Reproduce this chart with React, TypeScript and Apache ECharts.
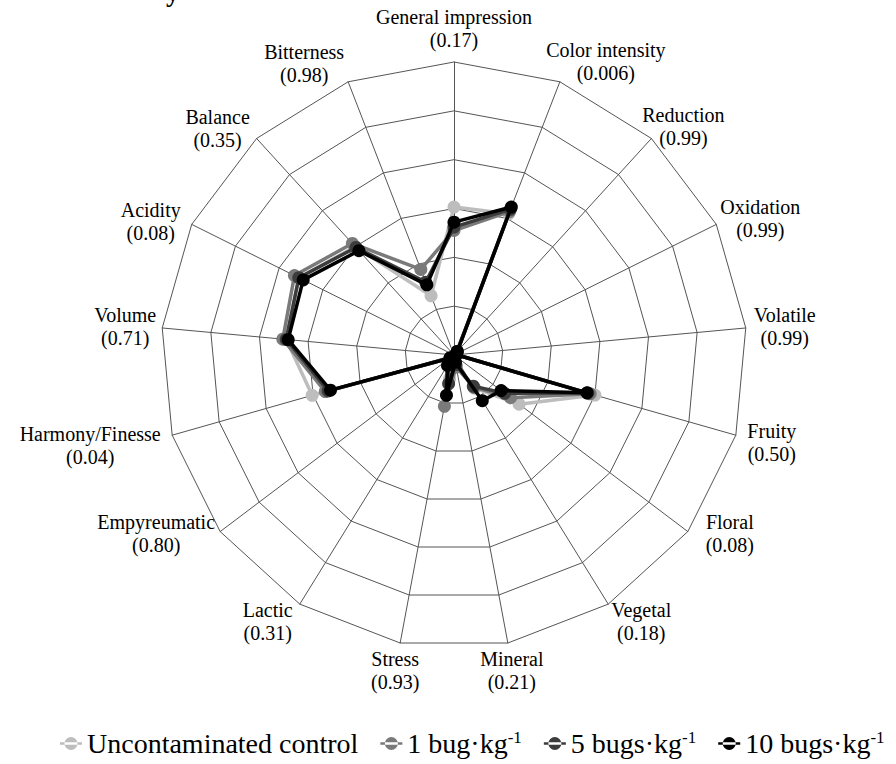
import React, { useEffect, useRef } from "react";
import * as echarts from "echarts";

const attributes = [
  "General impression", "Color intensity", "Reduction", "Oxidation", "Volatile",
  "Fruity", "Floral", "Vegetal", "Mineral", "Stress", "Lactic", "Empyreumatic",
  "Harmony/Finesse", "Volume", "Acidity", "Balance", "Bitterness",
];
const pValues = [
  "0.17", "0.006", "0.99", "0.99", "0.99", "0.50", "0.08", "0.18", "0.21", "0.93",
  "0.31", "0.80", "0.04", "0.71", "0.08", "0.35", "0.98",
];
const control = [3.03, 3.1, 0.1, 0.05, 0.05, 3.0, 1.67, 0.8, 0.2, 0.5, 0.2, 0.1, 3.02, 3.45, 3.55, 3.0, 1.3];
const bug1 = [2.55, 3.15, 0.1, 0.05, 0.05, 2.9, 1.45, 0.78, 0.25, 1.07, 0.25, 0.1, 2.74, 3.52, 3.65, 3.09, 1.88];
const bugs5 = [2.62, 3.2, 0.1, 0.05, 0.05, 2.85, 1.3, 0.75, 0.2, 0.6, 0.2, 0.1, 2.68, 3.45, 3.55, 2.98, 1.6];
const bugs10 = [2.72, 3.25, 0.1, 0.05, 0.05, 2.83, 1.21, 1.1, 0.15, 0.84, 0.25, 0.1, 2.63, 3.41, 3.45, 2.89, 1.54];
const seriesNames = ["Uncontaminated control", "1 bug·kg-1", "5 bugs·kg-1", "10 bugs·kg-1"];
const seriesColors = ["#bdbdbd", "#7a7a7a", "#3c3c3c", "#000000"];
const scaleMax = 6;

// layout (not data): radar geometry and label offsets from each outer vertex
const CX = 454;
const CY = 355;
const R = 293;
const labelOffsets: [number, number][] = [
  [0, -34], [46, -20], [32, -12], [44, -6], [39, -1], [36, 7], [42, 2], [33, 17],
  [4, 27], [-5, 27], [-32, 17], [-64, 2], [-82, 10], [-37, -1], [-41, -3], [-39, -10], [-44, -18],
];

const FONT = "Liberation Serif, Times New Roman, serif";

// ECharts radar runs counter-clockwise; reorder so the attributes run clockwise
const order = attributes.map((_, i) => (i === 0 ? 0 : attributes.length - i));
const reorder = (arr: number[]) => order.map((i) => arr[i]);

export default function App() {
  const ref = useRef<HTMLDivElement>(null);
  useEffect(() => {
    document.body.style.margin = "0";
    if (!ref.current) return;
    const chart = echarts.init(ref.current, null, { renderer: "svg" });
    const allData = [control, bug1, bugs5, bugs10];
    const legendIcon = "path://M0,6.2 L22,6.2 L22,8.8 L0,8.8 Z M4.5,7.5 A6.5,6.5 0 1,0 17.5,7.5 A6.5,6.5 0 1,0 4.5,7.5 Z";
    const n = attributes.length;
    const labels = attributes.map((a, i) => {
      const ang = (i * 2 * Math.PI) / n;
      const vx = CX + R * Math.sin(ang);
      const vy = CY - R * Math.cos(ang);
      return {
        type: "text",
        x: vx + labelOffsets[i][0],
        y: vy + labelOffsets[i][1],
        silent: true,
        style: {
          text: `${a}\n(${pValues[i]})`,
          font: `20px ${FONT}`,
          lineHeight: 23,
          textAlign: "center",
          textVerticalAlign: "middle",
          fill: "#000",
        },
      };
    });
    chart.setOption({
      animation: false,
      backgroundColor: "#ffffff",
      textStyle: { fontFamily: FONT },
      graphic: [
        {
          type: "text",
          left: 166,
          top: -22,
          style: { text: "y", font: `bold 27px ${FONT}`, fill: "#000" },
        },
        ...labels,
      ],
      legend: {
        bottom: 1,
        left: 55,
        itemWidth: 22,
        itemHeight: 15,
        itemGap: 22,
        icon: legendIcon,
        data: seriesNames,
        formatter: (nm: string) => {
          const m = nm.match(/^(.*)-1$/);
          return m ? `{t|${m[1]}}{s|-1}` : `{t|${nm}}`;
        },
        textStyle: {
          color: "#000",
          fontFamily: FONT,
          fontSize: 28,
          rich: {
            t: { fontFamily: FONT, fontSize: 28, color: "#000", lineHeight: 30 },
            s: { fontFamily: FONT, fontSize: 17, color: "#000", padding: [0, 0, 12, 0], lineHeight: 30 },
          },
        },
      },
      radar: {
        center: [CX, CY],
        radius: R,
        startAngle: 90,
        splitNumber: 6,
        shape: "polygon",
        indicator: order.map((i) => ({ name: attributes[i], min: 0, max: scaleMax })),
        axisName: { show: false },
        splitLine: { lineStyle: { color: "#555", width: 1 } },
        splitArea: { show: false },
        axisLine: { lineStyle: { color: "#555", width: 1 } },
        axisTick: { show: false },
        axisLabel: { show: false },
      },
      series: seriesNames.map((name, k) => ({
        type: "radar",
        name,
        symbol: "circle",
        symbolSize: 13,
        z: 2 + k,
        lineStyle: { color: seriesColors[k], width: 3.5 },
        itemStyle: { color: seriesColors[k] },
        data: [{ value: reorder(allData[k]), name }],
      })),
    });
    return () => chart.dispose();
  }, []);
  return <div ref={ref} style={{ width: 896, height: 764 }} />;
}
